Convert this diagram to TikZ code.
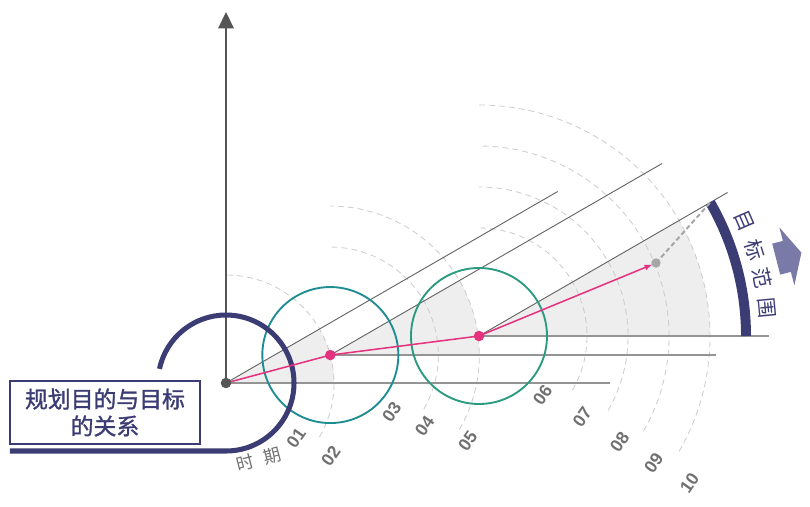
\documentclass[tikz,border=0pt]{standalone}
\usepackage{fontspec}
\setmainfont{Liberation Sans}
\newfontfamily\cjk{Noto Sans CJK SC}
\newfontfamily\cjkheavy[FakeBold=1.3]{Noto Sans CJK SC}
\usetikzlibrary{arrows.meta,calc}

\definecolor{navy}{HTML}{3C3C74}
\definecolor{tealA}{HTML}{1E8C93}
\definecolor{tealB}{HTML}{2B9B7F}
\definecolor{rose}{HTML}{E5327E}
\definecolor{axisgray}{HTML}{555555}
\definecolor{sectorfill}{HTML}{EEEEEE}
\definecolor{ringgray}{HTML}{CCCCCC}
\definecolor{numgray}{HTML}{707070}
\definecolor{tipblue}{HTML}{7A7AA8}

\tikzset{
  ring/.style={ringgray, line width=0.7pt, dash pattern=on 5pt off 3.5pt},
  ray/.style={black!60, line width=0.8pt},
  base/.style={black!42, line width=1.4pt},
  period/.style={numgray, inner sep=0pt, font=\fontsize{15}{15}\selectfont\bfseries, rotate=55},
  aimchar/.style={navy, inner sep=0pt, font=\cjk\fontsize{17.5}{17.5}\selectfont},
  dot/.style={circle, inner sep=0pt, minimum size=#1},
}

\begin{document}
\begin{tikzpicture}[x=0.3mm, y=0.3mm]
\useasboundingbox (-226,-123) rectangle (584,383);

% --- centres of the three periods ---
\coordinate (O) at (0,0);
\coordinate (P2) at (15:108);
\coordinate (P5) at (253,47);
\coordinate (G) at (430,120);
\coordinate (T) at ($(P5)+(30:267)$);

% --- grey sectors ---
\fill[sectorfill] (O) -- ++(108,0) arc[start angle=0, end angle=30, radius=108] -- cycle;
\fill[sectorfill] (P2) -- ++(149,0) arc[start angle=0, end angle=30, radius=149] -- cycle;
\fill[sectorfill] (P5) -- ++(231,0) arc[start angle=0, end angle=30, radius=231] -- cycle;

% --- dashed period rings ---
\foreach \c/\r in {O/108, P2/108, P2/149, P5/108, P5/149, P5/190, P5/231} {
    \draw[ring] ($(\c)+(-30:\r)$) arc[start angle=-30, end angle=90, radius=\r];
}

% --- rays ---
\draw[ray] (O) -- ++(30:383);
\draw[ray] (P2) -- ++(30:383);
\draw[ray] (P5) -- ++(30:287);
\draw[base] (O) -- ++(384,0);
\draw[base] (P2) -- ++(386,0);
\draw[base] (P5) -- ++(290,0);

% --- vertical axis ---
\draw[axisgray, line width=2.5pt, -{Triangle[length=14pt, width=13pt]}] (O) -- (0,371);

% --- circles ---
\draw[tealA, line width=1.6pt] (P2) circle[radius=68];
\draw[tealB, line width=1.6pt] (P5) circle[radius=68];

% --- title frame ---
\draw[navy, line width=4.3pt] (-216,-68) -- (0,-68) arc[start angle=-90, end angle=168, radius=68];
\node[draw=navy, line width=1.7pt, fill=white, minimum width=57mm, minimum height=18.9mm,
      align=center, text=navy, font=\cjkheavy\fontsize{19.5}{23}\selectfont] (title) at (-121,-29.5)
      {规划目的与目标\\的关系};

% --- target range ---
\draw[navy, line width=8.5pt] ($(P5)+(0:267)$) arc[start angle=0, end angle=30, radius=267];
\draw[black!35, line width=1.7pt, dash pattern=on 4pt off 2.5pt] (G) -- (T);
\foreach \ch/\ang [count=\k] in {目/23.4, 标/17.4, 范/11.6, 围/5.5} {
    \node[aimchar, rotate=\ang-90] (aim\k) at ($(P5)+(\ang:289)$) {\ch};
}
\begin{scope}[shift={(P5)}, rotate=14.5]
    \fill[tipblue] (307,-16) -- (318,-16) -- (318,-30) -- (333,0) -- (318,30) -- (318,16) -- (307,16) -- cycle;
\end{scope}

% --- path of the plan ---
\draw[rose, line width=1.3pt] (O) -- (P2) -- (P5);
\draw[rose, line width=1.3pt, -{Latex[length=7pt, width=5pt]}, shorten >=3pt] (P5) -- (G);
\node[dot=9pt, fill=axisgray] (o) at (O) {};
\node[dot=9pt, fill=rose] (p2) at (P2) {};
\node[dot=9pt, fill=rose] (p5) at (P5) {};
\node[dot=8pt, fill=black!35] (g) at (G) {};

% --- period labels ---
\node[numgray, inner sep=0pt, font=\cjk\fontsize{15}{15}\selectfont, rotate=15] (when) at (33,-76) {时\hspace{0.6em}期};
\foreach \c/\r/\a/\t in {O/89/-38/01, O/128/-35/02, P2/84/-43/03, P2/118/-37/04, P2/162/-32/05,
                         P5/87/-43/06, P5/131/-38/07, P5/176/-37/08, P5/216/-36/09, P5/257/-35/10} {
    \node[period] (n\t) at ($(\c)+(\a:\r)$) {\t};
}

\end{tikzpicture}
\end{document}
